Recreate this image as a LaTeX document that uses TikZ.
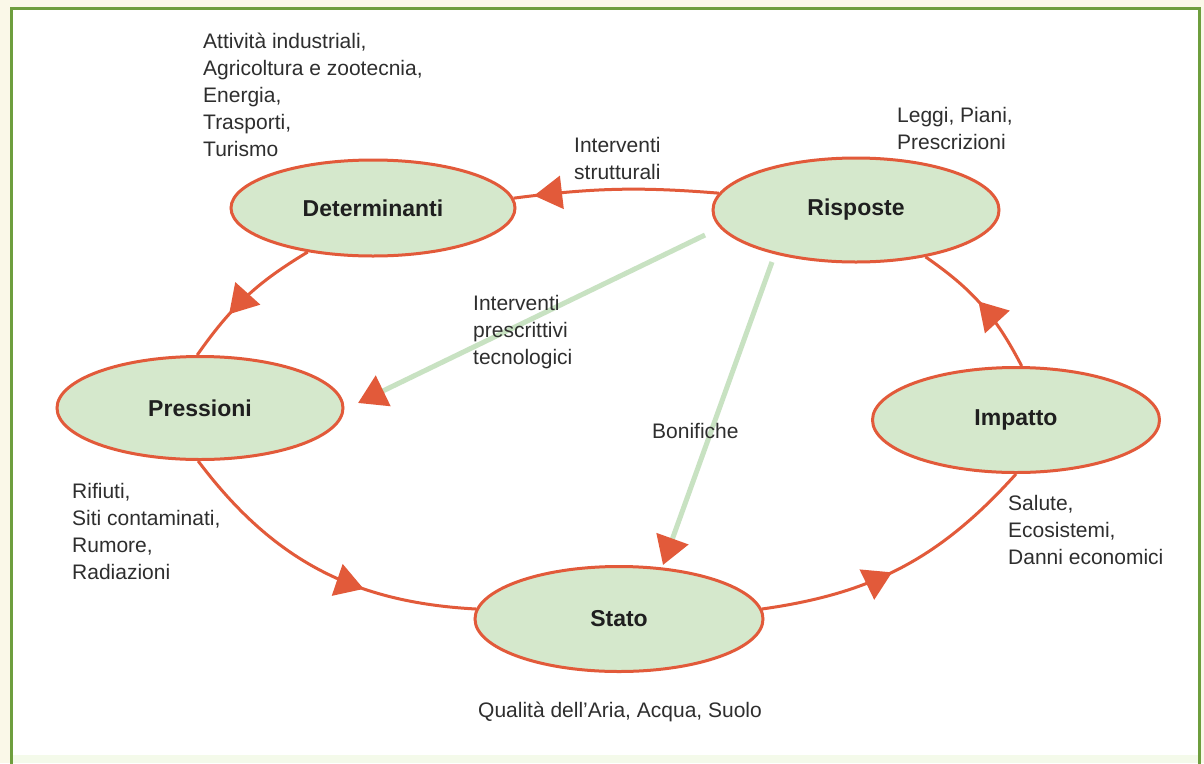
\documentclass[tikz,border=0pt]{standalone}
\usepackage{fontspec}
\setmainfont{Liberation Sans}
\usetikzlibrary{shapes.geometric,arrows.meta,decorations.markings}
\definecolor{redl}{HTML}{E25A3A}
\definecolor{ellfill}{HTML}{D5E8CC}
\definecolor{gline}{HTML}{C8E2C2}
\definecolor{framec}{HTML}{6E9E3E}
\definecolor{cream}{HTML}{FAF8E8}
\definecolor{pale}{HTML}{F4FAEA}
\definecolor{txt}{HTML}{2E2E2E}
\begin{document}
\begin{tikzpicture}[x=1pt,y=1pt,
  ell/.style={ellipse,draw=redl,line width=3pt,fill=ellfill,inner sep=0pt,
    font=\fontsize{23}{27}\selectfont\bfseries,text=black!88},
  lbl/.style={anchor=north west,align=left,inner sep=0pt,
    font=\fontsize{21}{27}\selectfont,text=txt},
  conn/.style={draw=redl,line width=3pt},
  arrowat/.style={postaction={decorate},decoration={markings,
    mark=at position #1 with {\arrow{Triangle[length=28pt,width=33pt]}}}},
  gconn/.style={draw=gline,line width=5pt,
    -{Triangle[length=28pt,width=33pt,color=redl]}},
  framel/.style={draw=framec,line width=3pt}
]
\useasboundingbox (0,0) rectangle (1204,-763);
\fill[cream] (0,0) rectangle (1204,-763);
\fill[white] (11,-8) rectangle (1199,-763);
\fill[pale] (12,-755) rectangle (1198,-763);
\draw[framel] (11,-766) -- (11,-8) -- (1199,-8) -- (1199,-766);

% ellipses
\node[ell,minimum width=284pt,minimum height=96pt] (D) at (373,-208) {Determinanti};
\node[ell,minimum width=286pt,minimum height=104pt] (R) at (856,-210) {Risposte};
\node[ell,minimum width=286pt,minimum height=103pt] (P) at (200,-408) {Pressioni};
\node[ell,minimum width=287pt,minimum height=105pt] (I) at (1016,-420) {Impatto};
\node[ell,minimum width=288pt,minimum height=105pt] (S) at (619,-619) {Stato};

% red cycle connectors
\draw[conn,arrowat=0.9] (R.173) to[bend right=6] (D.4);
\draw[conn,arrowat=0.66] (D.214) to[bend right=12] (P.93);
\draw[conn,arrowat=0.65] (P.268) to[bend right=25] (S.176);
\draw[conn,arrowat=0.46] (S.4) to[bend right=20] (I.270);
\draw[conn,arrowat=0.53] (I.84) to[bend right=14] (R.326);

% green connectors
\coordinate (g1s) at (705,-235);
\coordinate (g1e) at (358,-403);
\coordinate (g2s) at (772,-262);
\coordinate (g2e) at (663,-565);
\draw[gconn] (g1s) -- (g1e);
\draw[gconn] (g2s) -- (g2e);

% labels
\node[lbl] (tA) at (203,-33) {Attività industriali,\\Agricoltura e zootecnia,\\Energia,\\Trasporti,\\Turismo};
\node[lbl] (tL) at (897,-107) {Leggi, Piani,\\Prescrizioni};
\node[lbl] (tS) at (574,-137) {Interventi\\strutturali};
\node[lbl] (tP) at (473,-295) {Interventi\\prescrittivi\\tecnologici};
\node[lbl] (tB) at (652,-423) {Bonifiche};
\node[lbl] (tR) at (72,-483) {Rifiuti,\\Siti contaminati,\\Rumore,\\Radiazioni};
\node[lbl] (tE) at (1008,-495) {Salute,\\Ecosistemi,\\Danni economici};
\node[lbl] (tQ) at (478,-702) {Qualità dell'Aria, Acqua, Suolo};
\end{tikzpicture}
\end{document}
